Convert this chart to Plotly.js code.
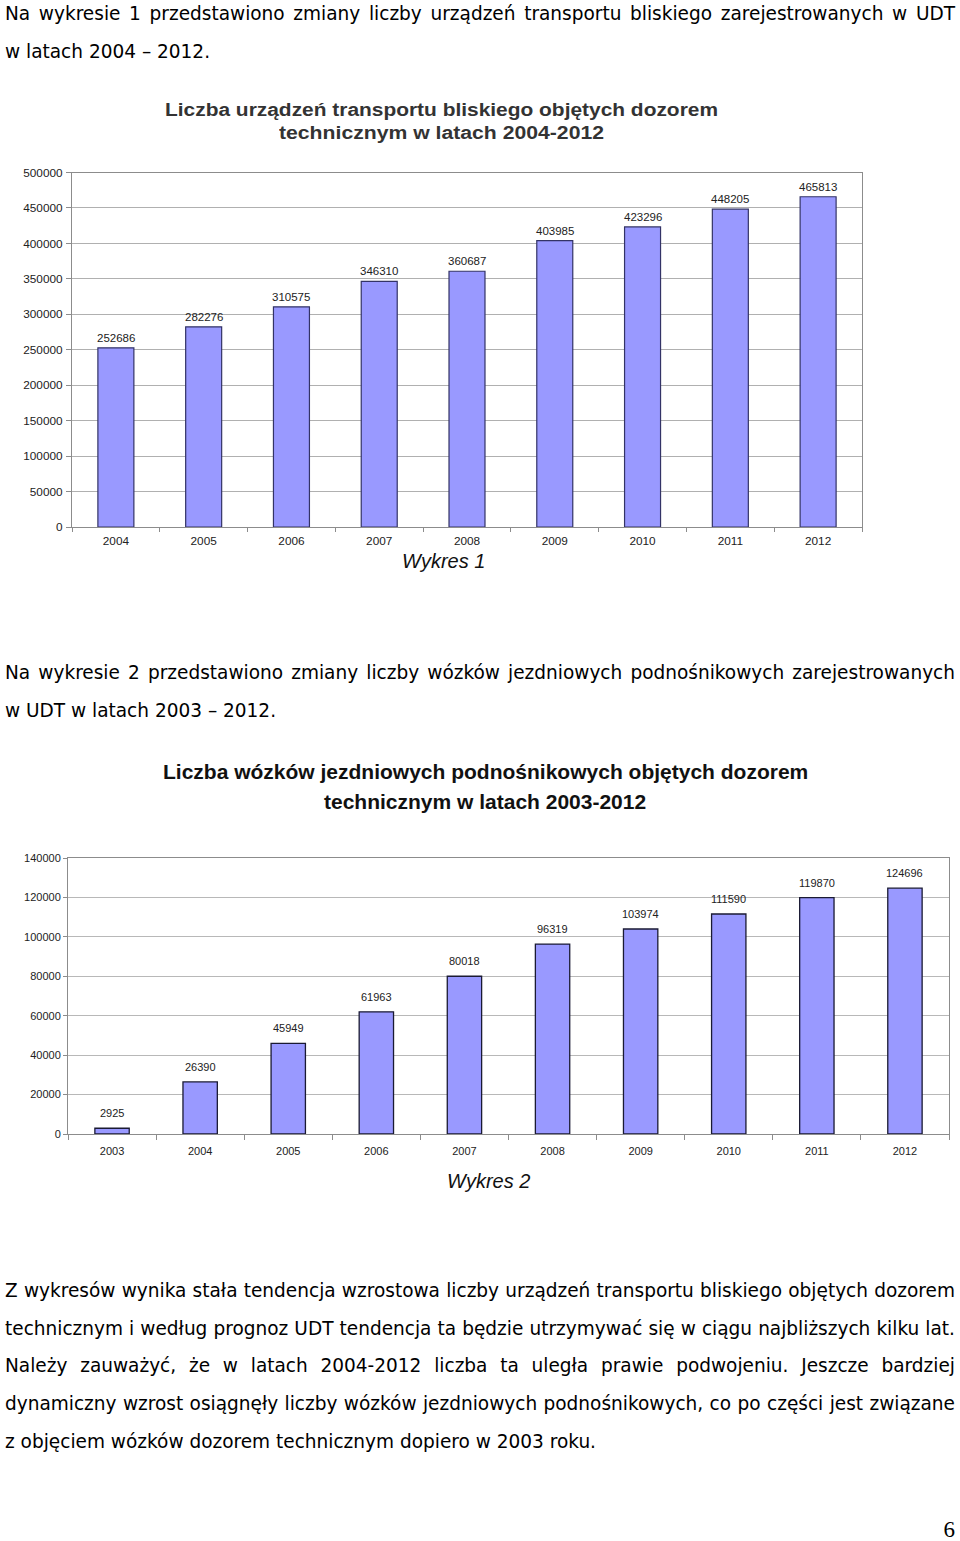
<!DOCTYPE html>
<html>
<head>
<meta charset="utf-8">
<script src="https://cdn.plot.ly/plotly-3.0.1.min.js"></script>
<style>
  html, body { margin: 0; padding: 0; background: #ffffff; }
  #page { position: relative; width: 960px; height: 1541px; overflow: hidden; background: #fff; }
  #chart { position: absolute; left: 0; top: 0; width: 960px; height: 1541px; }
  .ln { position: absolute; left: 5px; white-space: nowrap; font-family: "DejaVu Sans", Verdana, sans-serif;
        font-size: 20px; line-height: 20px; color: #000; transform-origin: 0 0; }
  .t1 { position: absolute; white-space: nowrap; font-family: "Liberation Sans", Arial, sans-serif;
        font-weight: bold; font-size: 18px; line-height: 18px; color: #333; transform-origin: 0 0; }
  .pg { position: absolute; right: 5px; top: 1521px; font-family: "Liberation Serif", "Times New Roman", serif;
        font-size: 23px; line-height: 18px; color: #000; }
</style>
</head>
<body>
<div id="page">
  <div id="chart"></div>
</div>
<script>
// ---------- data ----------
const years1 = ['2004', '2005', '2006', '2007', '2008', '2009', '2010', '2011', '2012'];
const values1 = [252686, 282276, 310575, 346310, 360687, 403985, 423296, 448205, 465813];
const yTicks1 = [0, 50000, 100000, 150000, 200000, 250000, 300000, 350000, 400000, 450000, 500000];

const years2 = ['2003', '2004', '2005', '2006', '2007', '2008', '2009', '2010', '2011', '2012'];
const values2 = [2925, 26390, 45949, 61963, 80018, 96319, 103974, 111590, 119870, 124696];
const yTicks2 = [0, 20000, 40000, 60000, 80000, 100000, 120000, 140000];

const title1 = ['Liczba urządzeń transportu bliskiego objętych dozorem', 'technicznym w latach 2004-2012'];
const title2 = ['Liczba wózków jezdniowych podnośnikowych objętych dozorem', 'technicznym w latach 2003-2012'];
const caption1 = 'Wykres 1';
const caption2 = 'Wykres 2';
const pageNumber = '6';

const para1 = [
  ['Na wykresie 1 przedstawiono zmiany liczby urządzeń transportu bliskiego zarejestrowanych w UDT', 'j'],
  ['w latach 2004 – 2012.', 'l']
];
const para2 = [
  ['Na wykresie 2 przedstawiono zmiany liczby wózków jezdniowych podnośnikowych zarejestrowanych', 'j'],
  ['w UDT w latach 2003 – 2012.', 'l']
];
const para3 = [
  ['Z wykresów wynika stała tendencja wzrostowa liczby urządzeń transportu bliskiego objętych dozorem', 'j'],
  ['technicznym i według prognoz UDT tendencja ta będzie utrzymywać się w ciągu najbliższych kilku lat.', 'j'],
  ['Należy zauważyć, że w latach 2004-2012 liczba ta uległa prawie podwojeniu. Jeszcze bardziej', 'j'],
  ['dynamiczny wzrost osiągnęły liczby wózków jezdniowych podnośnikowych, co po części jest związane', 'j'],
  ['z objęciem wózków dozorem technicznym dopiero w 2003 roku.', 'l']
];

// ---------- chart ----------
const W = 960, H = 1541;
const fy = px => 1 - px / H;
const fx = px => px / W;

const barColor = '#9999ff';

const traces = [
  {
    type: 'bar', x: years1, y: values1, xaxis: 'x', yaxis: 'y',
    width: 0.41,
    marker: { color: barColor, line: { color: '#333366', width: 1.2 } },
    hoverinfo: 'none', showlegend: false
  },
  {
    type: 'bar', x: years2, y: values2, xaxis: 'x2', yaxis: 'y2',
    width: 0.39,
    marker: { color: barColor, line: { color: '#1a1a33', width: 1.3 } },
    hoverinfo: 'none', showlegend: false
  }
];

const annotations = [];
years1.forEach((yr, i) => annotations.push({
  xref: 'x', yref: 'y', x: i, y: values1[i], text: String(values1[i]),
  showarrow: false, yanchor: 'middle', yshift: 10,
  font: { family: 'Liberation Sans, Arial, sans-serif', size: 11.5, color: '#222' }
}));
years2.forEach((yr, i) => annotations.push({
  xref: 'x2', yref: 'y2', x: i, y: values2[i], text: String(values2[i]),
  showarrow: false, yanchor: 'middle', yshift: 15,
  font: { family: 'Liberation Sans, Arial, sans-serif', size: 11, color: '#222' }
}));

const titleFont2 = { family: '"Liberation Sans Narrow", "Arial Narrow", "Liberation Sans", sans-serif', size: 21, color: '#111' };
annotations.push({ xref: 'paper', yref: 'paper', x: fx(485), y: fy(771), text: '<b>' + title2[0] + '</b>',
  showarrow: false, xanchor: 'center', yanchor: 'middle', font: titleFont2 });
annotations.push({ xref: 'paper', yref: 'paper', x: fx(485), y: fy(801), text: '<b>' + title2[1] + '</b>',
  showarrow: false, xanchor: 'center', yanchor: 'middle', font: titleFont2 });

const capFont = { family: 'Liberation Sans, Arial, sans-serif', size: 20, color: '#111' };
annotations.push({ xref: 'paper', yref: 'paper', x: fx(443), y: fy(561), text: '<i>' + caption1 + '</i>',
  showarrow: false, xanchor: 'center', yanchor: 'middle', font: capFont });
annotations.push({ xref: 'paper', yref: 'paper', x: fx(488), y: fy(1181), text: '<i>' + caption2 + '</i>',
  showarrow: false, xanchor: 'center', yanchor: 'middle', font: capFont });

const tickFont1 = { family: 'Liberation Sans, Arial, sans-serif', size: 11.8, color: '#222' };
const tickFont2 = { family: 'Liberation Sans, Arial, sans-serif', size: 11, color: '#222' };

const layout = {
  width: W, height: H,
  margin: { l: 0, r: 0, t: 0, b: 0 },
  paper_bgcolor: '#fff', plot_bgcolor: '#fff',
  showlegend: false,
  xaxis: {
    domain: [fx(72), fx(862)], anchor: 'y', type: 'category', range: [-0.5, years1.length - 0.5],
    showline: true, linecolor: '#8c8c8c', linewidth: 1, mirror: true,
    showgrid: false, ticks: 'outside', tickson: 'boundaries', ticklen: 4, tickcolor: '#8c8c8c',
    ticklabelstandoff: 3,
    tickangle: 0, tickfont: tickFont1, fixedrange: true
  },
  yaxis: {
    domain: [fy(527), fy(172.5)], anchor: 'x', range: [0, 500000],
    tickvals: yTicks1, ticktext: yTicks1.map(String),
    showline: true, linecolor: '#8c8c8c', linewidth: 1, mirror: true,
    showgrid: true, gridcolor: '#b0b0b0', gridwidth: 1, zeroline: false,
    ticks: 'outside', ticklen: 5, tickcolor: '#8c8c8c', ticklabelstandoff: 1,
    tickfont: tickFont1, fixedrange: true
  },
  xaxis2: {
    domain: [fx(68), fx(949)], anchor: 'y2', type: 'category', range: [-0.5, years2.length - 0.5],
    showline: true, linecolor: '#8c8c8c', linewidth: 1, mirror: true,
    showgrid: false, ticks: 'outside', tickson: 'boundaries', ticklen: 5, tickcolor: '#8c8c8c',
    ticklabelstandoff: 7,
    tickangle: 0, tickfont: tickFont2, fixedrange: true
  },
  yaxis2: {
    domain: [fy(1134), fy(858)], anchor: 'x2', range: [0, 140000],
    tickvals: yTicks2, ticktext: yTicks2.map(String),
    showline: true, linecolor: '#8c8c8c', linewidth: 1, mirror: true,
    showgrid: true, gridcolor: '#b8b8b8', gridwidth: 1.2, zeroline: false,
    ticks: 'outside', ticklen: 4, tickcolor: '#8c8c8c',
    tickfont: tickFont2, fixedrange: true
  },
  annotations: annotations
};

Plotly.newPlot('chart', traces, layout, { staticPlot: true, displayModeBar: false });

// ---------- HTML text ----------
const page = document.getElementById('page');
function makeLine(text, cls) {
  const d = document.createElement('div');
  d.className = cls || 'ln';
  d.textContent = text;
  page.appendChild(d);
  return d;
}

// chart 1 title (wide bold Arial, stretched to the reference width)
[[title1[0], 110, 553], [title1[1], 133, 325]].forEach(([txt, cy, tw]) => {
  const d = makeLine(txt, 't1');
  const nat = d.getBoundingClientRect().width;
  const s = tw / nat;
  d.style.left = (441.5 - tw / 2) + 'px';
  d.style.top = (cy - 9) + 'px';
  d.style.transform = 'scaleX(' + s + ')';
});

// page number
makeLine(pageNumber, 'pg');

// global horizontal scale so the body font width matches the reference (last line of paragraph 3 ends at x≈596)
const probe = makeLine(para3[4][0]);
const probeW = probe.getBoundingClientRect().width;
page.removeChild(probe);
const S = Math.min(1, 591 / probeW);

function placePara(lines, baselines) {
  lines.forEach((ln, i) => {
    const d = makeLine(ln[0]);
    d.style.top = (baselines[i] - 17) + 'px';
    const nat = d.getBoundingClientRect().width;
    if (ln[1] === 'j') {
      const spaces = (ln[0].match(/ /g) || []).length;
      const target = 950 / S;
      const ws = spaces ? (target - nat) / spaces : 0;
      d.style.wordSpacing = ws + 'px';
    }
    d.style.transform = 'scaleX(' + S + ')';
  });
}
placePara(para1, [20, 58]);
placePara(para2, [679, 717]);
placePara(para3, [1297, 1335, 1372, 1410, 1448]);
</script>
</body>
</html>
